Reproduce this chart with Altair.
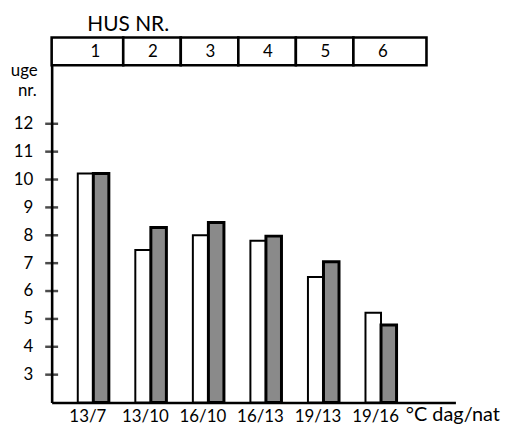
import altair as alt
import pandas as pd

# ---- data ----
houses = [1, 2, 3, 4, 5, 6]
temps = ["13/7", "13/10", "16/10", "16/13", "19/13", "19/16"]
white_vals = [10.22, 7.47, 8.0, 7.8, 6.5, 5.22]
dotted_vals = [10.22, 8.28, 8.46, 7.97, 7.05, 4.78]
y_ticks = [3, 4, 5, 6, 7, 8, 9, 10, 11, 12]

# ---- layout constants ----
W, H = 407, 340
X_MIN, X_MAX = 0.276, 7.293
Y_MIN, Y_MAX = 2.0, 14.1
BW = 0.27
LAST_CELL_END = 6.79
FONT = "Lato"

xs = alt.Scale(domain=[X_MIN, X_MAX], nice=False, zero=False)
ys = alt.Scale(domain=[Y_MIN, Y_MAX], nice=False, zero=False)

bars = pd.DataFrame({
    "house": houses * 2,
    "value": white_vals + dotted_vals,
    "kind": ["white"] * 6 + ["dotted"] * 6,
})
bars["x0"] = [h - BW if k == "white" else h for h, k in zip(bars["house"], bars["kind"])]
bars["x1"] = [h if k == "white" else h + BW for h, k in zip(bars["house"], bars["kind"])]

cell_start = [X_MIN] + [h + 0.52 for h in houses[:-1]]
cell_end = [h + 0.52 for h in houses[:-1]] + [LAST_CELL_END]
cells = pd.DataFrame({"house": houses, "start": cell_start, "end": cell_end,
                      "label": [str(h) for h in houses]})

ticks_df = pd.DataFrame({"v": y_ticks})

label_expr = "[" + ",".join("'%s'" % t for t in temps) + "][datum.value-1]"

x_axis = alt.Axis(values=houses, labelExpr=label_expr, ticks=False, tickSize=0,
                  grid=False, domainColor="black", domainWidth=2.6,
                  labelFont=FONT, labelFontSize=17, labelColor="black",
                  labelBaseline="alphabetic", labelPadding=19, labelOffset=-6,
                  labelOverlap=False, labelFlush=False, title=None)
y_axis = alt.Axis(values=y_ticks, ticks=False, tickSize=0, grid=False,
                  domainColor="black", domainWidth=2.6,
                  labelFont=FONT, labelFontSize=17, labelColor="black",
                  labelPadding=19, labelOverlap=False, labelFlush=False,
                  labelBound=False, title=None)

white = alt.Chart(bars).transform_filter("datum.kind == 'white'").mark_rect(
    fill="white", stroke="black", strokeWidth=2
).encode(
    x=alt.X("x0:Q", scale=xs, axis=x_axis), x2="x1:Q",
    y=alt.Y("value:Q", scale=ys, axis=y_axis),
    y2=alt.datum(Y_MIN),
)

dotted = alt.Chart(bars).transform_filter("datum.kind == 'dotted'").mark_rect(
    fill="#8a8a8a", stroke="black", strokeWidth=3
).encode(
    x=alt.X("x0:Q", scale=xs, axis=x_axis), x2="x1:Q",
    y=alt.Y("value:Q", scale=ys, axis=y_axis), y2=alt.datum(Y_MIN),
)

yticks = alt.Chart(ticks_df).mark_tick(
    color="black", thickness=2.5, size=13, orient="horizontal"
).encode(
    y=alt.Y("v:Q", scale=ys, axis=y_axis), x=alt.value(0),
)

header = alt.Chart(cells).mark_rect(
    fill="white", stroke="black", strokeWidth=2.6
).encode(
    x=alt.X("start:Q", scale=xs, axis=x_axis), x2="end:Q",
    y=alt.value(-28), y2=alt.value(0),
)

header_txt = alt.Chart(cells).mark_text(
    font=FONT, fontSize=17, color="black", baseline="middle", dx=2
).encode(
    x=alt.X("house:Q", scale=xs, axis=x_axis), y=alt.value(-13), text="label:N",
)

annot = pd.DataFrame({
    "text": ["HUS NR.", "uge", "nr.", "°C dag/nat"],
    "px": [36, -14, -15, 357],
    "py": [-35, 11, 31, 359],
    "align": ["left", "right", "right", "left"],
    "size": [21, 17, 17, 20],
})

def annot_layer(i):
    r = annot.iloc[i]
    return alt.Chart(annot.iloc[[i]]).mark_text(
        font=FONT, fontSize=float(r["size"]), color="black",
        align=r["align"], baseline="alphabetic"
    ).encode(x=alt.value(float(r["px"])), y=alt.value(float(r["py"])), text="text:N")

layers = [white, dotted, yticks, header, header_txt] + [annot_layer(i) for i in range(len(annot))]

chart = alt.layer(*layers).properties(
    width=W, height=H,
    autosize=alt.AutoSizeParams(type="none"),
    padding={"left": 44, "top": 56, "right": 53, "bottom": 28},
).configure(background="white").configure_view(stroke=None).configure_axis(
    labelOverlap=False
)

chart.save("out.html", embed_options={"renderer": "svg", "actions": False})
